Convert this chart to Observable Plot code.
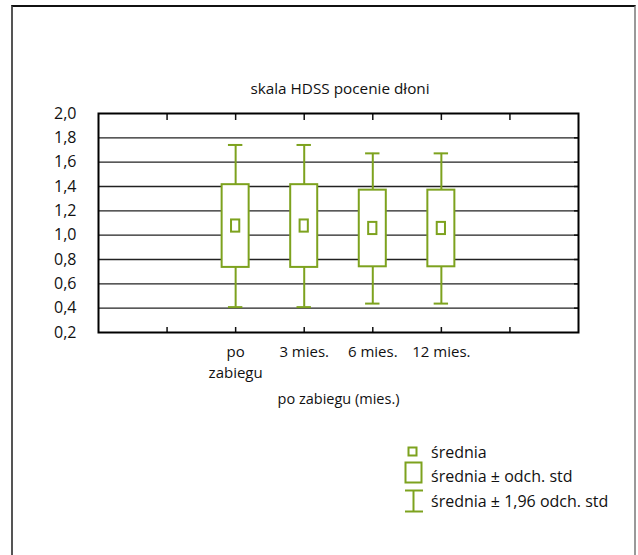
<!DOCTYPE html>
<html>
<head>
<meta charset="utf-8">
<script src="https://cdn.jsdelivr.net/npm/d3@7"></script>
<script src="https://cdn.jsdelivr.net/npm/@observablehq/plot@0.6"></script>
<style>
  html, body { margin: 0; padding: 0; background: #fff; overflow: hidden; }
  #wrap { position: relative; width: 638px; height: 555px; font-family: "Open Sans", sans-serif; color: #111; }
  #frame { position: absolute; left: 11px; top: 5px; width: 621px; height: 620px;
           border-top: 2px solid #111; border-left: 2px solid #555; border-right: 2px solid #999; }
  .t { position: absolute; line-height: 16px; white-space: nowrap; }
  #title { left: 0; width: 680px; text-align: center; top: 80px; font-size: 15.3px; }
  .leg { font-size: 16px; }
  #chart { position: absolute; left: 0; top: 100px; }
  #legend { position: absolute; left: 0; top: 0; }
</style>
</head>
<body>
<div id="wrap">
  <div id="frame"></div>
  <div id="title" class="t"></div>
  <div id="chart"></div>
  <svg id="legend" width="638" height="555"></svg>
  <div id="leg1" class="t leg" style="left:431px; top:444px"></div>
  <div id="leg2" class="t leg" style="left:431px; top:468px"></div>
  <div id="leg3" class="t leg" style="left:431px; top:493px"></div>
</div>
<script>
// ---- data ----
const categories = ["po\nzabiegu", "3 mies.", "6 mies.", "12 mies."];
const positions = [2, 3, 4, 5];
const means = [1.075, 1.075, 1.055, 1.055];
const sds = [0.34, 0.34, 0.315, 0.315];
const yTicks = [0.2, 0.4, 0.6, 0.8, 1.0, 1.2, 1.4, 1.6, 1.8, 2.0];
const gridValues = [0.4, 0.6, 0.8, 1.0, 1.2, 1.4, 1.6, 1.8];
const xMinorTicks = [1, 2, 3, 4, 5, 6];
const titleText = "skala HDSS pocenie dłoni";
const xTitle = "po zabiegu (mies.)";
const legendLabels = ["średnia", "średnia ± odch. std", "średnia ± 1,96 odch. std"];

const green = "#7da21e";

document.getElementById("title").textContent = titleText;
document.getElementById("leg1").textContent = legendLabels[0];
document.getElementById("leg2").textContent = legendLabels[1];
document.getElementById("leg3").textContent = legendLabels[2];

const rows = categories.map((c, i) => ({
  cat: c, pos: positions[i], mean: means[i], sd: sds[i],
  lo1: means[i] - sds[i], hi1: means[i] + sds[i],
  lo2: means[i] - 1.96 * sds[i], hi2: means[i] + 1.96 * sds[i]
}));

const boxHalf = 0.197;   // x units (box ~27px)
const capHalf = 0.105;   // whisker cap
const meanHalfX = 0.06;  // mean marker
const meanHalfY = 0.05;

const chart = Plot.plot({
  width: 638,
  height: 310,
  marginLeft: 98,
  marginRight: 60,
  marginTop: 13,
  marginBottom: 78,
  style: { fontFamily: "Open Sans", fontSize: "15px", color: "#111", background: "transparent", overflow: "visible" },
  x: { domain: [0, 7] },
  y: { domain: [0.2, 2.0] },
  marks: [
    Plot.ruleY(gridValues, { stroke: "#222", strokeWidth: 1.3 }),
    // axes
    Plot.axisY(yTicks, { anchor: "left", tickSize: 0, tickPadding: 22, fontSize: 16, tickFormat: d => d.toFixed(1).replace(".", ","), label: null }),
    Plot.axisY(gridValues, { anchor: "right", tickSize: -5, text: null, label: null, strokeWidth: 1.5 }),
    Plot.axisX(xMinorTicks, { anchor: "bottom", tickSize: -5, text: null, label: null, strokeWidth: 1.5 }),
    Plot.axisX(xMinorTicks, { anchor: "top", tickSize: -6, text: null, label: null, strokeWidth: 1.5 }),
    Plot.axisX(positions, { anchor: "bottom", tickSize: 0, tickPadding: 10, lineHeight: 1.4,
      tickFormat: d => categories[positions.indexOf(d)], label: null }),
    Plot.text([xTitle], { frameAnchor: "bottom", dy: 71, fontSize: 14.5, text: d => d }),
    // whiskers
    Plot.ruleX(rows, { x: "pos", y1: "hi2", y2: "hi1", stroke: green, strokeWidth: 2 }),
    Plot.ruleX(rows, { x: "pos", y1: "lo1", y2: "lo2", stroke: green, strokeWidth: 2 }),
    Plot.ruleY(rows, { y: "hi2", x1: d => d.pos - capHalf, x2: d => d.pos + capHalf, stroke: green, strokeWidth: 2 }),
    Plot.ruleY(rows, { y: "lo2", x1: d => d.pos - capHalf, x2: d => d.pos + capHalf, stroke: green, strokeWidth: 2 }),
    // boxes
    Plot.rect(rows, { x1: d => d.pos - boxHalf, x2: d => d.pos + boxHalf, y1: "lo1", y2: "hi1", fill: "white", stroke: green, strokeWidth: 2 }),
    // means
    Plot.rect(rows, { x1: d => d.pos - meanHalfX, x2: d => d.pos + meanHalfX, y1: d => d.mean - meanHalfY, y2: d => d.mean + meanHalfY, fill: "white", stroke: green, strokeWidth: 2 }),
    Plot.frame({ stroke: "#000", strokeWidth: 2 })
  ]
});
document.getElementById("chart").appendChild(chart);

// legend icons
const leg = d3.select("#legend");
leg.append("rect").attr("x", 408.5).attr("y", 447.5).attr("width", 8).attr("height", 8)
  .attr("fill", "none").attr("stroke", green).attr("stroke-width", 2);
leg.append("rect").attr("x", 405.5).attr("y", 462.5).attr("width", 16).attr("height", 20)
  .attr("fill", "none").attr("stroke", green).attr("stroke-width", 2);
leg.append("line").attr("x1", 413.5).attr("x2", 413.5).attr("y1", 490).attr("y2", 512).attr("stroke", green).attr("stroke-width", 2);
leg.append("line").attr("x1", 405).attr("x2", 423).attr("y1", 490.5).attr("y2", 490.5).attr("stroke", green).attr("stroke-width", 2);
leg.append("line").attr("x1", 405).attr("x2", 423).attr("y1", 511.5).attr("y2", 511.5).attr("stroke", green).attr("stroke-width", 2);
</script>
</body>
</html>
